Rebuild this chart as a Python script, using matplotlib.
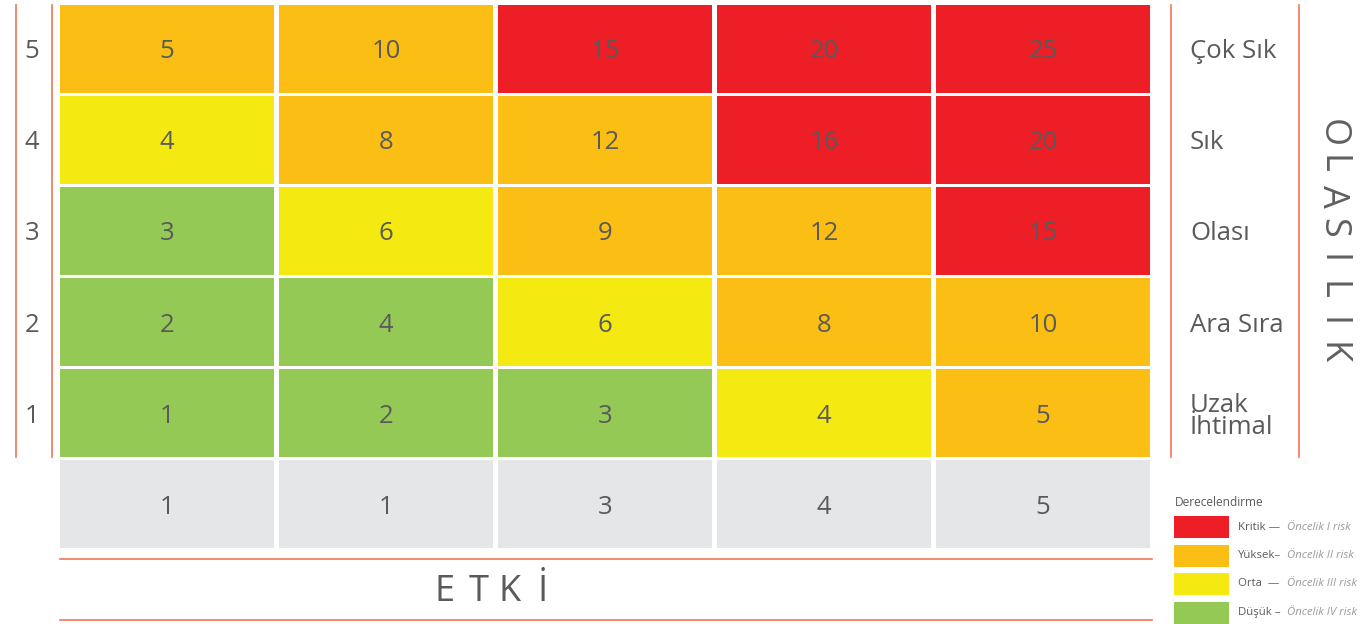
import matplotlib.pyplot as plt
from matplotlib.patches import Rectangle
from matplotlib.transforms import blended_transform_factory

plt.rcParams['font.family'] = ['Open Sans', 'DejaVu Sans']

# risk matrix data (rows from likelihood 5 down to 1, columns impact 1..5)
likelihood = [5, 4, 3, 2, 1]
likelihood_labels = ['Çok Sık', 'Sık', 'Olası', 'Ara Sıra', 'Uzak\nİhtimal']
impact_row = [1, 1, 3, 4, 5]
scores = [[5, 10, 15, 20, 25],
          [4, 8, 12, 16, 20],
          [3, 6, 9, 12, 15],
          [2, 4, 6, 8, 10],
          [1, 2, 3, 4, 5]]
levels = [['Y', 'Y', 'K', 'K', 'K'],
          ['O', 'Y', 'Y', 'K', 'K'],
          ['D', 'O', 'Y', 'Y', 'K'],
          ['D', 'D', 'O', 'Y', 'Y'],
          ['D', 'D', 'D', 'O', 'Y']]
legend_keys = ['K', 'Y', 'O', 'D']
legend_names = ['Kritik —', 'Yüksek–', 'Orta  —', 'Düşük –']
legend_notes = ['Öncelik I risk', 'Öncelik II risk', 'Öncelik III risk', 'Öncelik IV risk']

colors = {'K': '#EE1E26', 'Y': '#FBBE14', 'O': '#F4E910', 'D': '#95C955'}
gray = '#E5E6E8'
txt = '#5a5a5a'
line_c = '#F07556'

W, H = 1360, 624
fig = plt.figure(figsize=(W / 100, H / 100), dpi=100)

# overlay in pixel coords for decorations
ov = fig.add_axes([0, 0, 1, 1])
ov.set_xlim(0, W)
ov.set_ylim(H, 0)
ov.axis('off')

pitch_x, pitch_y = 219, 91
ax = fig.add_axes([60 / W, (H - 551) / H, 5 * pitch_x / W, 6 * pitch_y / H])
ax.set_xlim(0, 5)
ax.set_ylim(0, 6)
ax.axis('off')
gx = 5 / pitch_x
gy = 3 / pitch_y


def text_y(r):
    # numbers sit a little below the cell centre, more so towards the bottom
    return r + gy + (1 - gy) / 2 - (2 + (5 - r) * 0.4) / pitch_y


for i, lk in enumerate(likelihood):
    r = lk  # row index in data coords (gray row is 0)
    for c in range(5):
        ax.add_patch(Rectangle((c, r + gy), 1 - gx, 1 - gy, color=colors[levels[i][c]], lw=0))
        ax.text(c + (1 - gx) / 2, text_y(r), str(scores[i][c]),
                ha='center', va='center', fontsize=18.5, color=txt)
for c in range(5):
    ax.add_patch(Rectangle((c, gy), 1 - gx, 1 - gy, color=gray, lw=0))
    ax.text(c + (1 - gx) / 2, text_y(0), str(impact_row[c]),
            ha='center', va='center', fontsize=18.5, color=txt)

# left and right labels using figure-x / data-y transform
tr = blended_transform_factory(fig.transFigure, ax.transData)
for i, lk in enumerate(likelihood):
    yc = text_y(lk)
    ax.text(32 / W, yc, str(lk), transform=tr, ha='center', va='center',
            fontsize=18.5, color=txt)
    ax.text(1190 / W, yc, likelihood_labels[i],
            transform=tr, ha='left', va='center',
            fontsize=18.5, color=txt, linespacing=0.85)
for xp in [16, 52, 1171, 1299]:
    ax.plot([xp / W, xp / W], [1 + gy, 6], transform=tr, color=line_c, lw=1.2, clip_on=False)

# OLASILIK vertical
word = 'OLASILIK'
for k, ch in enumerate(word):
    ov.text(1332, 133 + k * 31.5, ch, rotation=-90, ha='center', va='center',
            fontsize=26, color='#606060')

# ETKİ
ov.plot([60, 1152], [559, 559], color=line_c, lw=1.2)
ov.plot([60, 1152], [620, 620], color=line_c, lw=1.2)
for ch, xc in zip('ETKİ', [445, 479, 510, 543]):
    ov.text(xc, 592, ch, ha='center', va='center', fontsize=26, color=txt)

# rating legend
ov.text(1175, 503, 'Derecelendirme', ha='left', va='center', fontsize=8.6, color=txt)
for k, key in enumerate(legend_keys):
    y0 = 516 + k * 28.5
    ov.add_patch(Rectangle((1174, y0), 55, 22, color=colors[key], lw=0))
    ov.text(1238, y0 + 11, legend_names[k], ha='left', va='center', fontsize=8.2, color=txt)
    ov.text(1287, y0 + 11, legend_notes[k], ha='left', va='center', fontsize=8.2,
            color='#9a9a9a', style='italic')

fig.savefig('out.png', dpi=100)
